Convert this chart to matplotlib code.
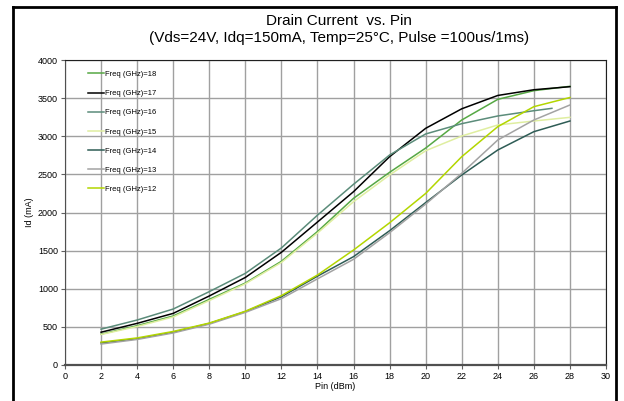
import matplotlib
matplotlib.use("Agg")
import matplotlib.pyplot as plt
from matplotlib.lines import Line2D

plt.rcParams['font.family'] = ['Liberation Sans', 'DejaVu Sans']

# Pin sweep (dBm)
pin = [2, 4, 6, 8, 10, 12, 14, 16, 18, 20, 22, 24, 26, 28]
pin_16 = [2, 4, 6, 8, 10, 12, 14, 16, 18, 20, 22, 24, 26, 27]

# drain current (mA) per frequency
id_18 = [405, 516, 643, 861, 1075, 1360, 1750, 2186, 2527, 2845, 3213, 3484, 3598, 3655]
id_17 = [430, 546, 677, 905, 1148, 1478, 1875, 2273, 2732, 3104, 3360, 3535, 3610, 3650]
id_16 = [470, 590, 734, 962, 1202, 1535, 1965, 2370, 2754, 3030, 3165, 3266, 3335, 3366]
id_15 = [400, 505, 630, 845, 1065, 1345, 1730, 2142, 2492, 2810, 3003, 3148, 3200, 3248]
id_14 = [290, 345, 430, 545, 700, 895, 1165, 1421, 1761, 2130, 2492, 2820, 3060, 3200]
id_13 = [275, 335, 420, 535, 690, 870, 1130, 1386, 1735, 2110, 2514, 2951, 3213, 3410]
id_12 = [300, 355, 440, 550, 705, 910, 1180, 1508, 1865, 2250, 2732, 3126, 3388, 3508]

series = [
    ("Freq (GHz)=18", pin, id_18, "#56a844"),
    ("Freq (GHz)=17", pin, id_17, "#000000"),
    ("Freq (GHz)=16", pin_16, id_16, "#5b8c7a"),
    ("Freq (GHz)=15", pin, id_15, "#dfeea0"),
    ("Freq (GHz)=14", pin, id_14, "#2e5c55"),
    ("Freq (GHz)=13", pin, id_13, "#a3a3a3"),
    ("Freq (GHz)=12", pin, id_12, "#b3d600"),
]

fig = plt.figure(figsize=(6.24, 4.01), dpi=100)
ax = fig.add_axes([65 / 624, 36 / 401, 541 / 624, 305 / 401])

for name, xs, ys, col in series:
    ax.plot(xs, ys, color=col, lw=1.1, label=name)

ax.set_xlim(0, 30)
ax.set_ylim(0, 4000)
ax.set_xticks(range(0, 31, 2))
ax.set_yticks(range(0, 4001, 500))
ax.grid(True, color="#a0a0a0", lw=1)
ax.set_axisbelow(True)
ax.tick_params(labelsize=6.5, length=3, color="#606060", pad=2)
for s in ["left", "bottom"]:
    ax.spines[s].set_color("#505050")
ax.spines["bottom"].set_linewidth(1.6)
for s in ["top", "right"]:
    ax.spines[s].set_color("#202020")

ax.set_xlabel("Pin (dBm)", fontsize=6.5, labelpad=1)
ax.set_ylabel("Id (mA)", fontsize=6.5, labelpad=3)

fig.text(0.543, 0.948, "Drain Current  vs. Pin", ha="center", va="center", fontsize=11)
fig.text(0.543, 0.904, "(Vds=24V, Idq=150mA, Temp=25°C, Pulse =100us/1ms)",
         ha="center", va="center", fontsize=11)

leg = ax.legend(loc="upper left", bbox_to_anchor=(0.037, 0.975), frameon=False,
                fontsize=5.5, handlelength=2.1, handletextpad=0.1,
                labelspacing=1.55, borderaxespad=0)

# outer frame of the chart
fx0, fx1, fy1 = 13 / 624, 616 / 624, 1 - 7 / 401
fig.add_artist(Line2D([fx0, fx0], [0, fy1], color="black", lw=2, transform=fig.transFigure))
fig.add_artist(Line2D([fx1, fx1], [0, fy1], color="black", lw=2, transform=fig.transFigure))
fig.add_artist(Line2D([fx0, fx1], [fy1, fy1], color="black", lw=2, transform=fig.transFigure))

fig.savefig("out.png", dpi=100)
